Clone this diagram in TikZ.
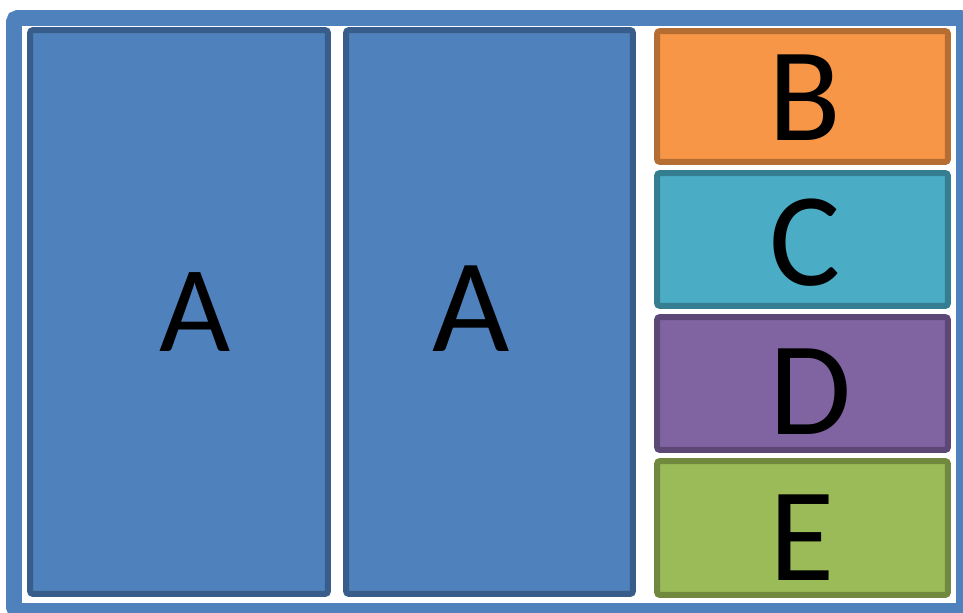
\documentclass[tikz,border=0pt]{standalone}
\usepackage{fontspec}
\setmainfont{Carlito}
\usepackage{tikz}
\usetikzlibrary{positioning}
\usepackage{xcolor}
\definecolor{ablue}{HTML}{4F81BD}
\definecolor{ablueline}{HTML}{385D8A}
\definecolor{borange}{HTML}{F79646}
\definecolor{borangeline}{HTML}{B66D31}
\definecolor{cteal}{HTML}{4BACC6}
\definecolor{ctealline}{HTML}{357D91}
\definecolor{dpurple}{HTML}{8064A2}
\definecolor{dpurpleline}{HTML}{5C4776}
\definecolor{egreen}{HTML}{9BBB59}
\definecolor{egreenline}{HTML}{71893F}
\begin{document}
\begin{tikzpicture}[
    x=0.02cm, y=-0.02cm,
    box/.style={draw, rounded corners=0.06cm, line width=0.12cm, minimum width=5.82cm, inner sep=0pt},
    letter/.style={anchor=base, inner sep=0pt, font=\fontsize{76}{80}\selectfont},
    frame/.style={draw=ablue, line width=0.32cm, rounded corners=0.08cm}
  ]
    \useasboundingbox (0,0) rectangle (963,612);
    \clip (0,0) rectangle (963,612);
    \draw[frame] (14,18) rectangle (964,611);

    \node[box, fill=ablue, draw=ablueline, minimum width=5.96cm, minimum height=11.28cm] (A1) at (179,312) {};
    \node[box, fill=ablue, draw=ablueline, minimum width=5.74cm, minimum height=11.28cm] (A2) at (489.5,312) {};
    \node[box, fill=borange, draw=borangeline, minimum height=2.62cm] (B) at (802.5,96.5) {};
    \node[box, fill=cteal, draw=ctealline, minimum height=2.66cm] (C) at (802.5,239.5) {};
    \node[box, fill=dpurple, draw=dpurpleline, minimum height=2.66cm] (D) at (802.5,383.5) {};
    \node[box, fill=egreen, draw=egreenline, minimum height=2.68cm] (E) at (802.5,528) {};

    \node[letter, font=\fontsize{70}{74}\selectfont] (labelA1) at (195,351) {A};
    \node[letter] (labelA2) at (471.5,351) {A};
    \node[letter] (labelB) at (805,140) {B};
    \node[letter] (labelC) at (805,285) {C};
    \node[letter] (labelD) at (811,434) {D};
    \node[letter] (labelE) at (802,580) {E};
  \end{tikzpicture}
\end{document}
